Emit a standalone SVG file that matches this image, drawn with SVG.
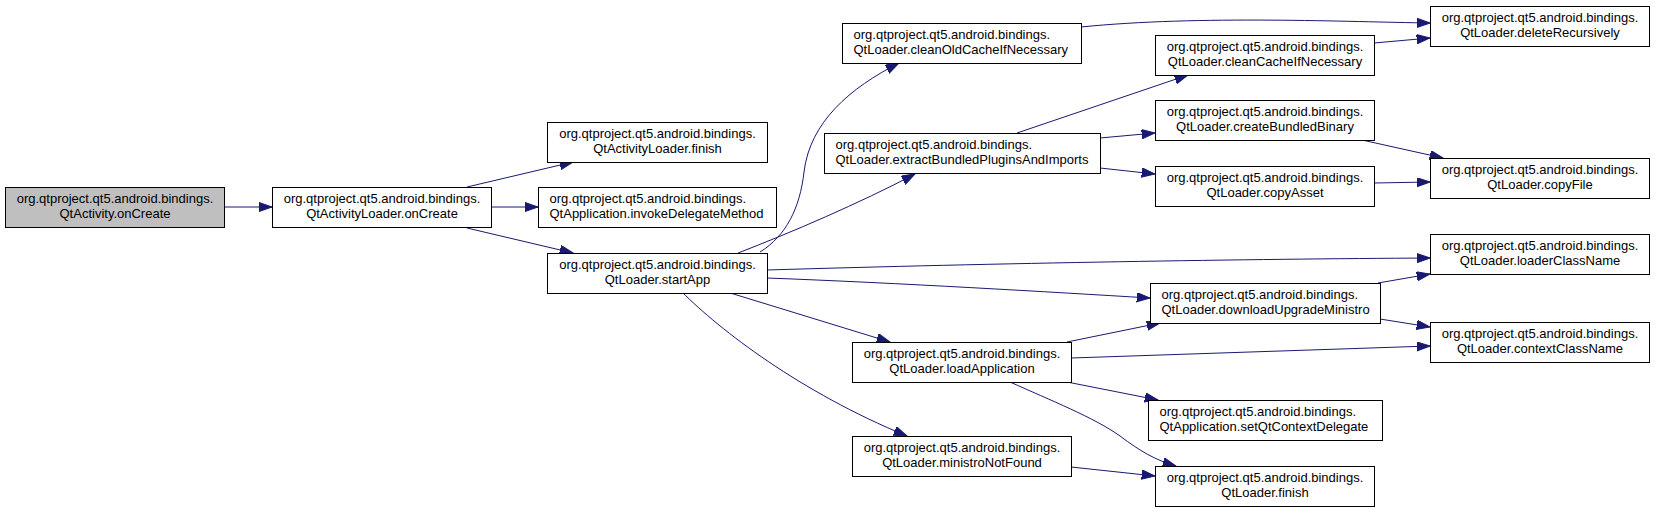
<svg xmlns="http://www.w3.org/2000/svg" width="1655" height="512" viewBox="0 0 1655 512">
<style>
  .node rect { fill: #ffffff; stroke: #000000; stroke-width: 1; }
  .node.root rect { fill: #bfbfbf; }
  .node text { font-family: "Liberation Sans", Arial, Helvetica, sans-serif; font-size: 13px; fill: #000000; }
  .c { text-anchor: middle; }
  .l { text-anchor: start; }
  .edges path { fill: none; stroke: #191970; stroke-width: 1; marker-end: url(#arrow); }
</style>
<defs>
  <marker id="arrow" markerUnits="userSpaceOnUse" markerWidth="14" markerHeight="10" refX="13.3" refY="4.67" orient="auto">
    <path d="M0,0 L13.3,4.67 L0,9.33 Z" fill="#191970" stroke="#191970" stroke-width="1"/>
  </marker>
</defs>
<rect width="1655" height="512" fill="#ffffff"/>
<g class="edges">
  <path d="M224,207 L272,207"/>
  <path d="M467,187 L573,162"/>
  <path d="M491,207 L538,207"/>
  <path d="M467,228 L573,253"/>
  <path d="M760,252 C786,236 800,208 804,172 C810,122 850,88 899,63"/>
  <path d="M738,253 C790,233 860,203 915,174"/>
  <path d="M767,270 C1000,263 1250,259 1430,258"/>
  <path d="M767,278 C900,283 1050,292 1150,298"/>
  <path d="M727,292 L890,342"/>
  <path d="M682,292 C720,330 800,392 907,436"/>
  <path d="M1081,27 C1200,15 1350,22 1430,23"/>
  <path d="M1374,43 L1430,38"/>
  <path d="M1017,133 L1188,75"/>
  <path d="M1100,138 L1155,133"/>
  <path d="M1100,168 L1155,174"/>
  <path d="M1362,140 L1443,158"/>
  <path d="M1374,183 L1430,182"/>
  <path d="M1067,342 L1160,323"/>
  <path d="M1071,358 L1430,346"/>
  <path d="M1067,382 L1158,400"/>
  <path d="M1010,382 C1050,400 1095,418 1120,436 C1140,451 1155,460 1176,466"/>
  <path d="M1071,467 L1155,476"/>
  <path d="M1378,283 L1430,274"/>
  <path d="M1380,319 L1430,327"/>
</g>
<g id="n1" class="node root"><rect x="5.5" y="187.5" width="219" height="40"/><text class="c" x="115" y="203">org.qtproject.qt5.android.bindings.</text><text class="c" x="115" y="217.5">QtActivity.onCreate</text></g>
<g id="n2" class="node"><rect x="272.5" y="187.5" width="219" height="40"/><text class="c" x="382" y="203">org.qtproject.qt5.android.bindings.</text><text class="c" x="382" y="217.5">QtActivityLoader.onCreate</text></g>
<g id="n3" class="node"><rect x="547.5" y="122.5" width="220" height="40"/><text class="c" x="657.5" y="138">org.qtproject.qt5.android.bindings.</text><text class="c" x="657.5" y="152.5">QtActivityLoader.finish</text></g>
<g id="n4" class="node"><rect x="538.5" y="187.5" width="238" height="40"/><text class="l" x="549.5" y="203">org.qtproject.qt5.android.bindings.</text><text class="l" x="549.5" y="217.5">QtApplication.invokeDelegateMethod</text></g>
<g id="n5" class="node"><rect x="547.5" y="253.5" width="220" height="40"/><text class="c" x="657.5" y="269">org.qtproject.qt5.android.bindings.</text><text class="c" x="657.5" y="283.5">QtLoader.startApp</text></g>
<g id="n6" class="node"><rect x="842.5" y="23.5" width="239" height="40"/><text class="l" x="853.5" y="39">org.qtproject.qt5.android.bindings.</text><text class="l" x="853.5" y="53.5">QtLoader.cleanOldCacheIfNecessary</text></g>
<g id="n7" class="node"><rect x="824.5" y="133.5" width="276" height="40"/><text class="l" x="835.5" y="149">org.qtproject.qt5.android.bindings.</text><text class="l" x="835.5" y="163.5">QtLoader.extractBundledPluginsAndImports</text></g>
<g id="n8" class="node"><rect x="852.5" y="342.5" width="219" height="40"/><text class="c" x="962" y="358">org.qtproject.qt5.android.bindings.</text><text class="c" x="962" y="372.5">QtLoader.loadApplication</text></g>
<g id="n9" class="node"><rect x="852.5" y="436.5" width="219" height="40"/><text class="c" x="962" y="452">org.qtproject.qt5.android.bindings.</text><text class="c" x="962" y="466.5">QtLoader.ministroNotFound</text></g>
<g id="n10" class="node"><rect x="1155.5" y="35.5" width="219" height="40"/><text class="c" x="1265" y="51">org.qtproject.qt5.android.bindings.</text><text class="c" x="1265" y="65.5">QtLoader.cleanCacheIfNecessary</text></g>
<g id="n11" class="node"><rect x="1155.5" y="100.5" width="219" height="40"/><text class="c" x="1265" y="116">org.qtproject.qt5.android.bindings.</text><text class="c" x="1265" y="130.5">QtLoader.createBundledBinary</text></g>
<g id="n12" class="node"><rect x="1155.5" y="166.5" width="219" height="40"/><text class="c" x="1265" y="182">org.qtproject.qt5.android.bindings.</text><text class="c" x="1265" y="196.5">QtLoader.copyAsset</text></g>
<g id="n13" class="node"><rect x="1150.5" y="283.5" width="230" height="40"/><text class="l" x="1161.5" y="299">org.qtproject.qt5.android.bindings.</text><text class="l" x="1161.5" y="313.5">QtLoader.downloadUpgradeMinistro</text></g>
<g id="n14" class="node"><rect x="1148.5" y="400.5" width="234" height="40"/><text class="l" x="1159.5" y="416">org.qtproject.qt5.android.bindings.</text><text class="l" x="1159.5" y="430.5">QtApplication.setQtContextDelegate</text></g>
<g id="n15" class="node"><rect x="1155.5" y="466.5" width="219" height="40"/><text class="c" x="1265" y="482">org.qtproject.qt5.android.bindings.</text><text class="c" x="1265" y="496.5">QtLoader.finish</text></g>
<g id="n16" class="node"><rect x="1430.5" y="6.5" width="219" height="40"/><text class="c" x="1540" y="22">org.qtproject.qt5.android.bindings.</text><text class="c" x="1540" y="36.5">QtLoader.deleteRecursively</text></g>
<g id="n17" class="node"><rect x="1430.5" y="158.5" width="219" height="40"/><text class="c" x="1540" y="174">org.qtproject.qt5.android.bindings.</text><text class="c" x="1540" y="188.5">QtLoader.copyFile</text></g>
<g id="n18" class="node"><rect x="1430.5" y="234.5" width="219" height="40"/><text class="c" x="1540" y="250">org.qtproject.qt5.android.bindings.</text><text class="c" x="1540" y="264.5">QtLoader.loaderClassName</text></g>
<g id="n19" class="node"><rect x="1430.5" y="322.5" width="219" height="40"/><text class="c" x="1540" y="338">org.qtproject.qt5.android.bindings.</text><text class="c" x="1540" y="352.5">QtLoader.contextClassName</text></g>
</svg>
